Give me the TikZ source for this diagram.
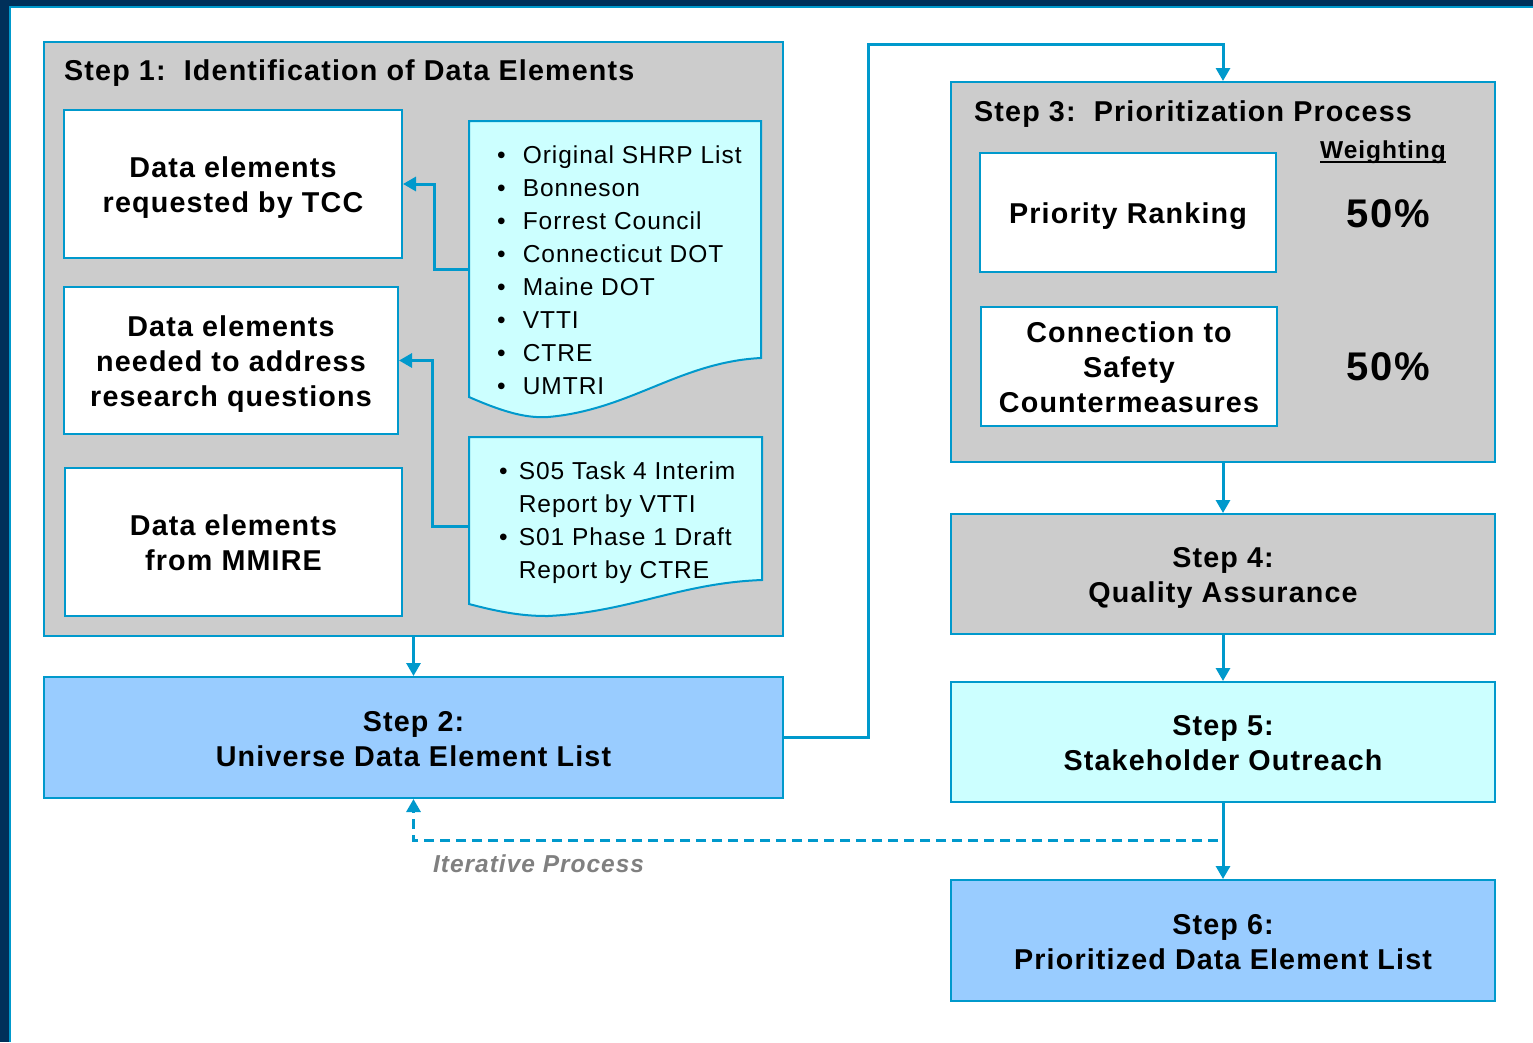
\documentclass[tikz,border=0pt]{standalone}
\usepackage{fontspec}
\setmainfont{Liberation Sans}[LetterSpace=4]
\usetikzlibrary{arrows.meta}

\definecolor{navy}{RGB}{0,48,90}
\definecolor{cy}{RGB}{0,153,204}
\definecolor{gr}{RGB}{204,204,204}
\definecolor{paleblue}{RGB}{204,255,255}
\definecolor{skyblue}{RGB}{153,204,255}
\definecolor{itgray}{RGB}{128,128,128}

\newcommand\boxfont{\fontsize{28.7}{35}\selectfont\bfseries}
\newcommand\listfont{\fontsize{24.5}{33}\selectfont}
\newcommand\pctfont{\fontsize{40}{48}\selectfont\bfseries}
\newcommand\ulword[1]{\setbox0\hbox{#1}\rlap{\rule[-4.5pt]{\wd0}{2pt}}\box0}
% fixed line height and depth so that box labels sit at the same level
\newcommand\ls{\rule[-6.5pt]{0pt}{35pt}}

\tikzset{
  boxline/.style={draw=cy, line width=2pt, inner sep=0pt},
  graybox/.style={boxline, fill=gr},
  labelled/.style={align=center, font=\boxfont, execute at end node=\ls},
  whitebox/.style={boxline, fill=white, labelled},
  stepbox/.style={boxline, labelled},
  docshape/.style={draw=cy, line width=2pt, fill=paleblue},
  conn/.style={draw=cy, line width=3pt, -{Triangle[width=14pt,length=13pt]}},
  loopconn/.style={conn, dash pattern=on 10pt off 6pt},
  sized/.style 2 args={minimum width=#1pt, minimum height=#2pt},
}

\begin{document}
\begin{tikzpicture}[x=1pt,y=-1pt]
\useasboundingbox (0,0) rectangle (1533,1042);

% page frame: dark band on top and left with a thin cyan rule
\fill[navy] (0,0) rectangle (1533,6);
\fill[navy] (0,0) rectangle (9,1042);
\draw[cy, line width=2pt] (10,1042) -- (10,6.5) -- (1533,6.5);

% ---------- Step 1 ----------
\node[graybox, sized={739}{594}] (s1) at (413.5,339) {};
\node[anchor=base west, inner sep=0, font=\boxfont] (t1) at (64,80)
  {Step 1:\ \ Identification of Data Elements};

\node[whitebox, sized={338}{148}] (tcc) at (233,184) {\ls Data elements\\requested by TCC};
\node[whitebox, sized={334}{147}] (res) at (231,360.5) {\ls Data elements\\needed to address\\research questions};
\node[whitebox, sized={337}{148}] (mmire) at (233.5,542) {\ls Data elements\\from MMIRE};

% source documents
\draw[docshape] (469,121) -- (761,121) -- (761,358)
  .. controls (680,362) and (630,410) .. (548,417)
  .. controls (530,418) and (510,415) .. (469,397) -- cycle;
\node[sized={292}{296}, inner sep=0] (d1) at (615,269) {};
\node[anchor=base west, inner sep=0] (l1) at (497,163.5) {\listfont
  \begin{tabular}[t]{@{}l@{\hspace{17pt}}l@{}}
  \textbullet & Original SHRP List\\
  \textbullet & Bonneson\\
  \textbullet & Forrest Council\\
  \textbullet & Connecticut DOT\\
  \textbullet & Maine DOT\\
  \textbullet & VTTI\\
  \textbullet & CTRE\\
  \textbullet & UMTRI
  \end{tabular}};

\draw[docshape] (469,437) -- (762,437) -- (762,580)
  .. controls (680,583) and (630,612) .. (548,616)
  .. controls (531,616) and (510,615) .. (469,604) -- cycle;
\node[sized={293}{179}, inner sep=0] (d2) at (615.5,526.5) {};
\node[anchor=base west, inner sep=0] (l2) at (499,479.5) {\listfont
  \begin{tabular}[t]{@{}l@{\hspace{11pt}}l@{}}
  \textbullet & S05 Task 4 Interim\\
              & Report by VTTI\\
  \textbullet & S01 Phase 1 Draft\\
              & Report by CTRE
  \end{tabular}};

\draw[conn] (d1.west) -- ++(-34,0) |- (tcc.east);
\draw[conn] (d2.west) -- ++(-36,0) |- (res.east);

% ---------- Step 2 ----------
\node[stepbox, fill=skyblue, sized={739}{121}] (s2) at (413.5,737.5)
  {\ls Step 2:\\Universe Data Element List};
\draw[conn] (s1.south) -- (s2.north);

% ---------- Step 3 ----------
\node[graybox, sized={544}{380}] (s3) at (1223,272) {};
\node[anchor=base west, inner sep=0, font=\boxfont] (t3) at (974,121)
  {Step 3:\ \ Prioritization Process};
\node[anchor=base, inner sep=0, font=\fontsize{24.5}{30}\selectfont\bfseries] (wt) at (1383,158)
  {\ulword{Weighting}};
\node[whitebox, sized={296}{119}] (pr) at (1128,212.5) {\ls Priority Ranking};
\node[whitebox, sized={296}{119}] (cs) at (1129,366.5) {\ls Connection to\\Safety\\Countermeasures};
\node[anchor=base, inner sep=0, font=\pctfont] (p1) at (1388,227) {50\%};
\node[anchor=base, inner sep=0, font=\pctfont] (p2) at (1388,380) {50\%};

\draw[conn] (s2.east) -- ++(84,0) |- ([yshift=37pt]s3.north) -- (s3.north);

% ---------- Steps 4 to 6 ----------
\node[stepbox, fill=gr, sized={544}{120}] (s4) at (1223,574)
  {\ls Step 4:\\Quality Assurance};
\node[stepbox, fill=paleblue, sized={544}{120}] (s5) at (1223,742)
  {\ls Step 5:\\Stakeholder Outreach};
\node[stepbox, fill=skyblue, sized={544}{121}] (s6) at (1223,940.5)
  {\ls Step 6:\\Prioritized Data Element List};

\draw[conn] (s3.south) -- (s4.north);
\draw[conn] (s4.south) -- (s5.north);
\draw[conn] (s5.south) -- (s6.north);

% feedback loop back to the universe list
\coordinate (fb) at (1218,840);
\draw[loopconn] (fb) -| (s2.south);
\node[anchor=base west, inner sep=0, text=itgray,
      font=\fontsize{24.5}{30}\selectfont\bfseries\itshape] (itp) at (433,872)
  {Iterative Process};
\end{tikzpicture}
\end{document}
